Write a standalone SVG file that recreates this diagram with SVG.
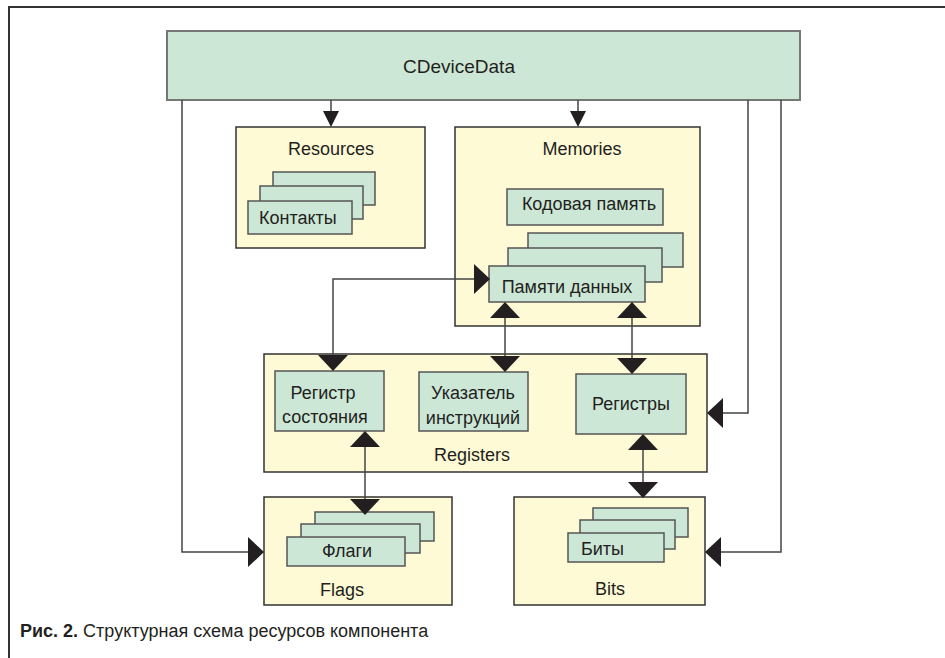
<svg xmlns="http://www.w3.org/2000/svg" width="945" height="658" viewBox="0 0 945 658">
  <style>
    text { font-family: "Liberation Sans", Arial, sans-serif; font-size: 18px; fill: #231f20; }
    .mid { text-anchor: middle; }
    .frame { fill: none; stroke: #333; stroke-width: 2; }
    .group { fill: #fefad6; stroke: #333; stroke-width: 1.5; }
    .item { fill: #cde7d7; stroke: #555; stroke-width: 1.5; }
    .top { fill: #cde7d7; stroke: #777; stroke-width: 2; }
    .wire { fill: none; stroke: #444; stroke-width: 1.5; }
    .head { fill: #231f20; }
    .cap { font-size: 18px; }
  </style>

  <!-- page frame: top and left rules -->
  <path class="frame" d="M9,658 V7 H945"/>

  <g id="cdevicedata">
    <rect class="top" x="167" y="31" width="633" height="69"/>
    <text class="mid" x="459" y="73" style="font-size:19px">CDeviceData</text>
  </g>

  <g id="resources">
    <rect class="group" x="236" y="127" width="189" height="121"/>
    <text class="mid" x="331" y="155">Resources</text>
    <rect class="item" x="273" y="172" width="102" height="33"/>
    <rect class="item" x="260" y="186" width="103" height="33"/>
    <rect class="item" x="248" y="201" width="104" height="33"/>
    <text x="259" y="224">Контакты</text>
  </g>

  <g id="memories">
    <rect class="group" x="455" y="127" width="245" height="199"/>
    <text class="mid" x="582" y="155">Memories</text>
    <g id="code-memory">
      <rect class="item" x="507" y="189" width="156" height="36"/>
      <text class="mid" x="589" y="210">Кодовая память</text>
    </g>
    <g id="data-memory">
      <rect class="item" x="528" y="233" width="155" height="34"/>
      <rect class="item" x="508" y="248" width="154" height="34"/>
      <rect class="item" x="489" y="266" width="156" height="36"/>
      <text class="mid" x="567" y="293">Памяти данных</text>
    </g>
  </g>

  <g id="registers">
    <rect class="group" x="264" y="354" width="443" height="118"/>
    <text class="mid" x="472" y="461">Registers</text>
    <g id="status-register">
      <rect class="item" x="275" y="371" width="109" height="60"/>
      <text class="mid" x="323" y="399">Регистр</text>
      <text class="mid" x="325" y="423">состояния</text>
    </g>
    <g id="instruction-pointer">
      <rect class="item" x="419" y="372" width="109" height="59"/>
      <text class="mid" x="473" y="399">Указатель</text>
      <text class="mid" x="473" y="424">инструкций</text>
    </g>
    <g id="register-file">
      <rect class="item" x="576" y="374" width="110" height="60"/>
      <text class="mid" x="631" y="410">Регистры</text>
    </g>
  </g>

  <g id="flags">
    <rect class="group" x="264" y="497" width="188" height="108"/>
    <text class="mid" x="342" y="596">Flags</text>
    <rect class="item" x="315" y="512" width="119" height="29"/>
    <rect class="item" x="301" y="524" width="119" height="29"/>
    <rect class="item" x="287" y="537" width="118" height="29"/>
    <text class="mid" x="347" y="557">Флаги</text>
  </g>

  <g id="bits">
    <rect class="group" x="514" y="497" width="191" height="108"/>
    <text class="mid" x="610" y="595">Bits</text>
    <rect class="item" x="593" y="508" width="95" height="29"/>
    <rect class="item" x="580" y="520" width="95" height="29"/>
    <rect class="item" x="568" y="533" width="96" height="29"/>
    <text x="581" y="555">Биты</text>
  </g>

  <g id="connectors">
    <!-- CDeviceData to its members -->
    <path class="wire" d="M331,100 V112"/>
    <polygon class="head" points="323,111 339,111 331,127"/>
    <path class="wire" d="M578,100 V112"/>
    <polygon class="head" points="570,111 586,111 578,127"/>
    <path class="wire" d="M182,100 V552 H250"/>
    <polygon class="head" points="248,537 248,567 264,552"/>
    <path class="wire" d="M748,100 V413 H722"/>
    <polygon class="head" points="723,398 723,428 707,413"/>
    <path class="wire" d="M781,100 V552 H720"/>
    <polygon class="head" points="721,537 721,567 705,552"/>

    <!-- data memory to registers -->
    <path class="wire" d="M474,279 H333 V356"/>
    <polygon class="head" points="474,264 474,294 490,279"/>
    <polygon class="head" points="318,355 348,355 333,371"/>
    <path class="wire" d="M505,317 V356"/>
    <polygon class="head" points="490,318 520,318 505,302"/>
    <polygon class="head" points="490,356 520,356 505,372"/>
    <path class="wire" d="M632,317 V358"/>
    <polygon class="head" points="617,318 647,318 632,302"/>
    <polygon class="head" points="617,358 647,358 632,374"/>

    <!-- registers to flags and bits -->
    <path class="wire" d="M365,446 V500"/>
    <polygon class="head" points="350,447 380,447 365,431"/>
    <polygon class="head" points="350,499 380,499 365,515"/>
    <path class="wire" d="M643,449 V482"/>
    <polygon class="head" points="628,450 658,450 643,434"/>
    <polygon class="head" points="628,482 658,482 643,498"/>
  </g>

  <text class="cap" x="20" y="637"><tspan font-weight="bold">Рис. 2.</tspan> Структурная схема ресурсов компонента</text>
</svg>
